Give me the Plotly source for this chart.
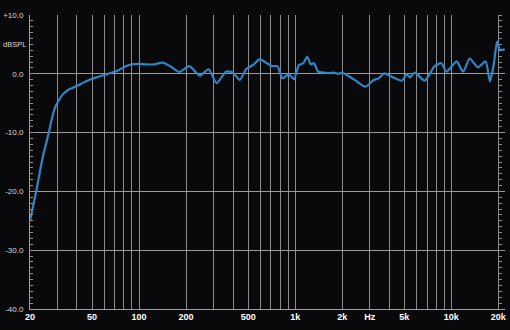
import plotly.graph_objects as go
import math

freq_hz = [20, 21, 22.1, 23.2, 24.3, 25.4, 26.4, 27.3, 28.2, 29.2, 30.3, 32.5, 35.1, 37.5, 40.5, 44, 49.5, 55, 60, 65, 70, 75, 81, 89,
           100, 111, 125, 142, 160, 181, 210, 245, 279, 314, 360, 396, 442, 484, 538, 594, 649, 716, 770, 829, 906,
           984, 1056, 1127, 1196, 1258, 1322, 1402, 1534, 1650, 1775, 1900, 2000, 2377, 2818, 3186, 3427, 3724, 4272,
           4820, 5180, 5440, 5840, 6760, 7820, 8640, 9320, 10820, 11920, 13140, 14820, 16600, 17700, 18700, 19660,
           20480, 22000]
spl_db = [-25, -22.3, -19.5, -16.5, -13.8, -11.8, -10, -8.2, -6.7, -5.5, -4.7, -3.5, -2.75, -2.4, -2.0, -1.5, -0.9, -0.5, -0.2, 0.1, 0.36, 0.7, 1.2, 1.6,
          1.7, 1.6, 1.6, 1.9, 1.2, 0.3, 1.3, -0.3, 0.77, -1.6, 0.36, 0.25, -1.05, 0.77, 1.5, 2.5, 1.9, 1.3, 1.3, -0.77, -0.1,
          -0.9, 1.5, 1.8, 2.9, 1.6, 1.8, 0.36, 0.2, 0.1, 0.2, 0.0, 0.2, -0.95, -2.2, -1.05, -0.77, 0.08, -0.66,
          -1.17, -0.1, -0.6, 0.2, -1.17, 1.3, 1.8, 0.36, 2.1, 0.36, 2.6, 1.1, 2.1, -1.3, 1.5, 5.46,
          4.05, 4.15]

grid_freqs = [30, 40, 50, 60, 70, 80, 90, 100, 200, 300, 400, 500, 600, 700, 800, 900, 1000,
              2000, 3000, 4000, 5000, 6000, 7000, 8000, 9000, 10000, 20000]
label_map = {20: "20", 50: "50", 100: "100", 200: "200", 500: "500", 1000: "1k", 2000: "2k",
             3000: "Hz", 5000: "5k", 10000: "10k", 20000: "20k"}
x_tickvals = [20] + grid_freqs
x_ticktext = [label_map.get(v, "") for v in x_tickvals]

y_tickvals = [10, 0, -10, -20, -30, -40]
y_ticktext = ["+10.0", "0.0", "-10.0", "-20.0", "-30.0", "-40.0"]

fig = go.Figure()
fig.add_trace(go.Scatter(x=freq_hz, y=spl_db, mode="lines",
                         line=dict(color="#2f86c6", width=2.2, shape="spline", smoothing=0.6),
                         hoverinfo="skip", showlegend=False))
# invisible trace for the second (right) tick axis
fig.add_trace(go.Scatter(x=[20, 22000], y=[-40, 10], yaxis="y2", mode="lines",
                         line=dict(width=0), hoverinfo="skip", showlegend=False))

xmin, xmax = math.log10(20), math.log10(22100)
pos20k = (math.log10(20000) - xmin) / (xmax - xmin)

fig.update_layout(
    width=510, height=330,
    margin=dict(l=30, r=3, t=15, b=21),
    paper_bgcolor="#09090b", plot_bgcolor="#09090b",
    xaxis=dict(type="log", range=[xmin, xmax], tickmode="array", tickvals=x_tickvals, ticktext=x_ticktext,
               showgrid=True, gridcolor="#8c8c8c", gridwidth=1, zeroline=False, showline=True,
               linecolor="#a0a0a0", linewidth=1, ticks="", ticklabelstandoff=-1,
               tickfont=dict(family="Liberation Sans", size=9, color="#ffffff", weight="bold")),
    yaxis=dict(range=[-40, 10], tickmode="array", tickvals=y_tickvals, ticktext=y_ticktext,
               showgrid=True, gridcolor="#9a9a9a", gridwidth=1, zeroline=False, showline=True,
               linecolor="#a0a0a0", linewidth=1, ticks="inside", ticklen=3, tickcolor="#8c8c8c",
               minor=dict(dtick=1, ticks="inside", ticklen=3, tickcolor="#8c8c8c", showgrid=False),
               ticklabelstandoff=4,
               tickfont=dict(family="Liberation Sans", size=8, color="#d8d8d8")),
    yaxis2=dict(range=[-40, 10], overlaying="y", anchor="free", position=pos20k, side="right",
                showgrid=False, zeroline=False, showticklabels=False, showline=False,
                tickmode="linear", dtick=1, ticks="outside", ticklen=3, tickcolor="#8c8c8c"),
    annotations=[dict(x=0, y=5, xref="paper", yref="y", text="dBSPL", showarrow=False,
                      xanchor="right", yanchor="middle", xshift=-2,
                      font=dict(family="Liberation Sans", size=7.5, color="#d8d8d8"))],
)

fig.write_html("out.html")
